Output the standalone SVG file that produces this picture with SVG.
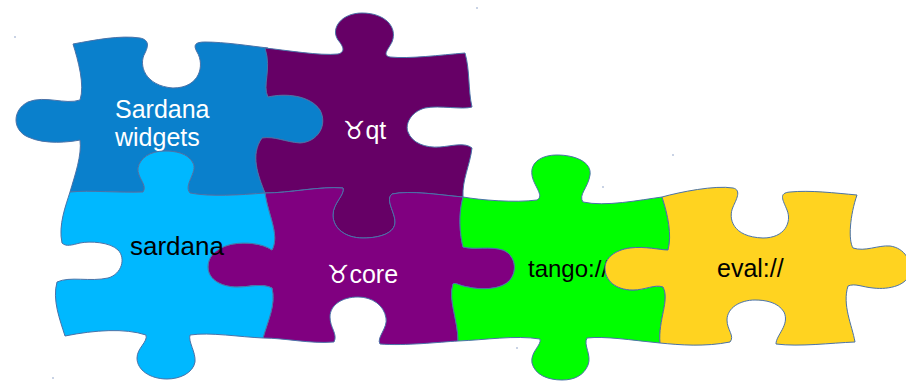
<svg xmlns="http://www.w3.org/2000/svg" width="906" height="382" viewBox="0 0 906 382">
  <style>
    .piece { stroke: #4a72a8; stroke-width: 1; stroke-linejoin: round; }
    .lbl { font-family: "Liberation Sans", "DejaVu Sans", Arial, sans-serif; font-size: 25px; }
    .light { fill: #ffffff; }
    .dark { fill: #000000; }
    .speck { fill: #6a86b8; }
  </style>
  <rect width="906" height="382" fill="#ffffff"/>

  <!-- Sardana widgets -->
  <g id="sardana-widgets">
    <path class="piece" fill="#0a80cc" d="M73,44 C95,40 120,35 140,38 C150,40 148,47 145,53 C138,65 145,86 173,88 C200,88 205,65 197,52 C193,45 195,42 205,42 C225,42 250,46 268,48 C272,70 262,85 268,97 C285,93 310,95 320,110 C328,125 318,142 300,143 C285,142 275,136 262,138 C250,155 258,175 265,193 C240,195 210,197 190,193 C183,185 198,172 193,163 C188,153 175,151 165,151 C150,151 140,158 138,168 C137,178 148,185 143,192 C120,193 90,190 70,192 C75,175 82,155 80,140 C70,142 45,145 28,137 C12,130 12,110 28,102 C45,95 65,105 80,100 C85,85 78,60 73,44 Z"/>
    <text class="lbl light" x="115" y="118">Sardana</text>
    <text class="lbl light" x="115" y="146">widgets</text>
  </g>

  <!-- taurus qt -->
  <g id="taurus-qt">
    <path class="piece" fill="#660066" d="M265,48 C285,50 320,56 338,54 C346,52 343,46 338,40 C330,28 342,13 362,13 C385,13 398,27 392,42 C388,50 382,55 390,57 C410,59 440,55 465,53 C470,70 468,90 472,107 C462,110 440,105 425,108 C410,112 405,125 408,132 C412,143 425,148 440,147 C452,146 465,142 472,148 C470,165 462,180 463,197 C440,195 410,190 392,194 C385,200 395,212 395,222 C395,233 380,238 363,238 C345,238 333,228 333,215 C333,203 345,195 343,188 C320,186 290,193 265,193 C258,175 250,155 262,138 C275,136 285,142 300,143 C318,142 328,125 320,110 C310,95 285,93 268,97 C262,85 272,70 265,48 Z"/>
    <text class="lbl light" x="343" y="139">♉qt</text>
  </g>

  <!-- taurus core -->
  <g id="taurus-core">
    <path class="piece" fill="#800080" d="M265,193 C290,193 320,186 343,188 C345,195 333,203 333,215 C333,228 345,238 363,238 C380,238 395,233 395,222 C395,212 385,200 392,194 C410,190 440,195 463,197 C458,215 460,235 463,247 C475,250 490,246 503,250 C515,255 518,270 510,280 C502,290 480,290 468,287 C460,286 455,282 453,284 C448,300 458,320 458,341 C440,342 405,346 380,344 C376,338 388,328 386,318 C384,305 372,297 358,297 C342,297 330,305 330,317 C330,328 338,334 334,342 C310,344 285,338 263,338 C268,320 276,305 272,288 C262,283 250,287 237,287 C222,287 208,280 208,267 C208,255 218,247 233,244 C245,242 262,243 272,250 C280,235 268,215 265,193 Z"/>
    <text class="lbl light" x="327" y="283">♉core</text>
  </g>

  <!-- sardana -->
  <g id="sardana">
    <path class="piece" fill="#00b8ff" d="M70,192 C90,190 120,193 143,192 C148,185 137,178 138,168 C140,158 150,151 165,151 C175,151 188,153 193,163 C198,172 183,185 190,193 C210,197 240,195 265,193 C268,215 280,235 272,250 C262,243 245,242 233,244 C218,247 208,255 208,267 C208,280 222,287 237,287 C250,287 262,283 272,288 C276,305 268,320 263,338 C240,337 210,332 190,335 C188,342 196,352 195,362 C193,373 180,379 167,379 C150,379 137,370 137,358 C137,348 148,342 146,335 C125,328 95,330 65,336 C60,320 52,300 57,282 C70,276 90,282 108,278 C122,274 126,258 118,250 C110,242 90,241 80,243 C72,245 66,247 62,243 C58,225 66,205 70,192 Z"/>
    <text class="dark" x="130" y="255" style="font-family: 'Liberation Sans', Arial, sans-serif; font-size: 26px;">sardana</text>
  </g>

  <!-- tango:// -->
  <g id="tango">
    <path class="piece" fill="#00ff00" d="M463,197 C480,200 515,203 537,200 C545,196 533,185 532,175 C530,162 542,155 557,155 C575,155 592,162 590,175 C588,188 578,195 583,202 C605,207 640,200 662,197 C668,215 672,235 668,250 C660,250 645,246 630,248 C615,250 605,258 605,268 C605,280 615,290 633,290 C645,290 655,284 663,287 C670,300 658,320 660,343 C630,340 605,336 587,338 C583,345 592,355 588,365 C584,375 575,380 562,380 C548,380 535,375 532,363 C530,352 542,345 540,339 C515,335 485,340 458,341 C458,320 448,300 453,284 C455,282 460,286 468,287 C480,290 502,290 510,280 C518,270 515,255 503,250 C490,246 475,250 463,247 C460,235 458,215 463,197 Z"/>
    <text class="dark" x="528" y="277" style="font-family: 'Liberation Sans', Arial, sans-serif; font-size: 24px;">tango://</text>
  </g>

  <!-- eval:// -->
  <g id="eval">
    <path class="piece" fill="#ffd320" d="M662,197 C680,192 715,185 733,188 C742,190 736,200 733,207 C728,218 732,237 763,238 C785,238 792,222 787,210 C783,200 778,193 790,192 C810,190 835,193 857,195 C850,215 848,240 853,248 C865,252 878,245 890,246 C905,248 912,262 910,272 C908,285 890,290 873,288 C862,287 855,283 848,286 C842,305 852,325 855,342 C830,343 800,347 776,344 C776,335 790,325 784,312 C778,302 765,300 755,300 C740,300 727,308 727,320 C727,330 735,336 730,342 C705,347 680,345 660,343 C658,320 670,300 663,287 C655,284 645,290 633,290 C615,290 605,280 605,268 C605,258 615,250 630,248 C645,246 660,250 668,250 C672,235 668,215 662,197 Z"/>
    <text class="lbl dark" x="717" y="277">eval://</text>
  </g>

  <!-- stray specks -->
  <g id="specks">
    <circle class="speck" cx="15" cy="37" r="0.7"/>
    <circle class="speck" cx="477" cy="8" r="0.7"/>
    <circle class="speck" cx="673" cy="155" r="0.7"/>
    <circle class="speck" cx="603" cy="187" r="0.7"/>
    <circle class="speck" cx="517" cy="348" r="0.7"/>
    <circle class="speck" cx="53" cy="378" r="0.7"/>
  </g>
</svg>
